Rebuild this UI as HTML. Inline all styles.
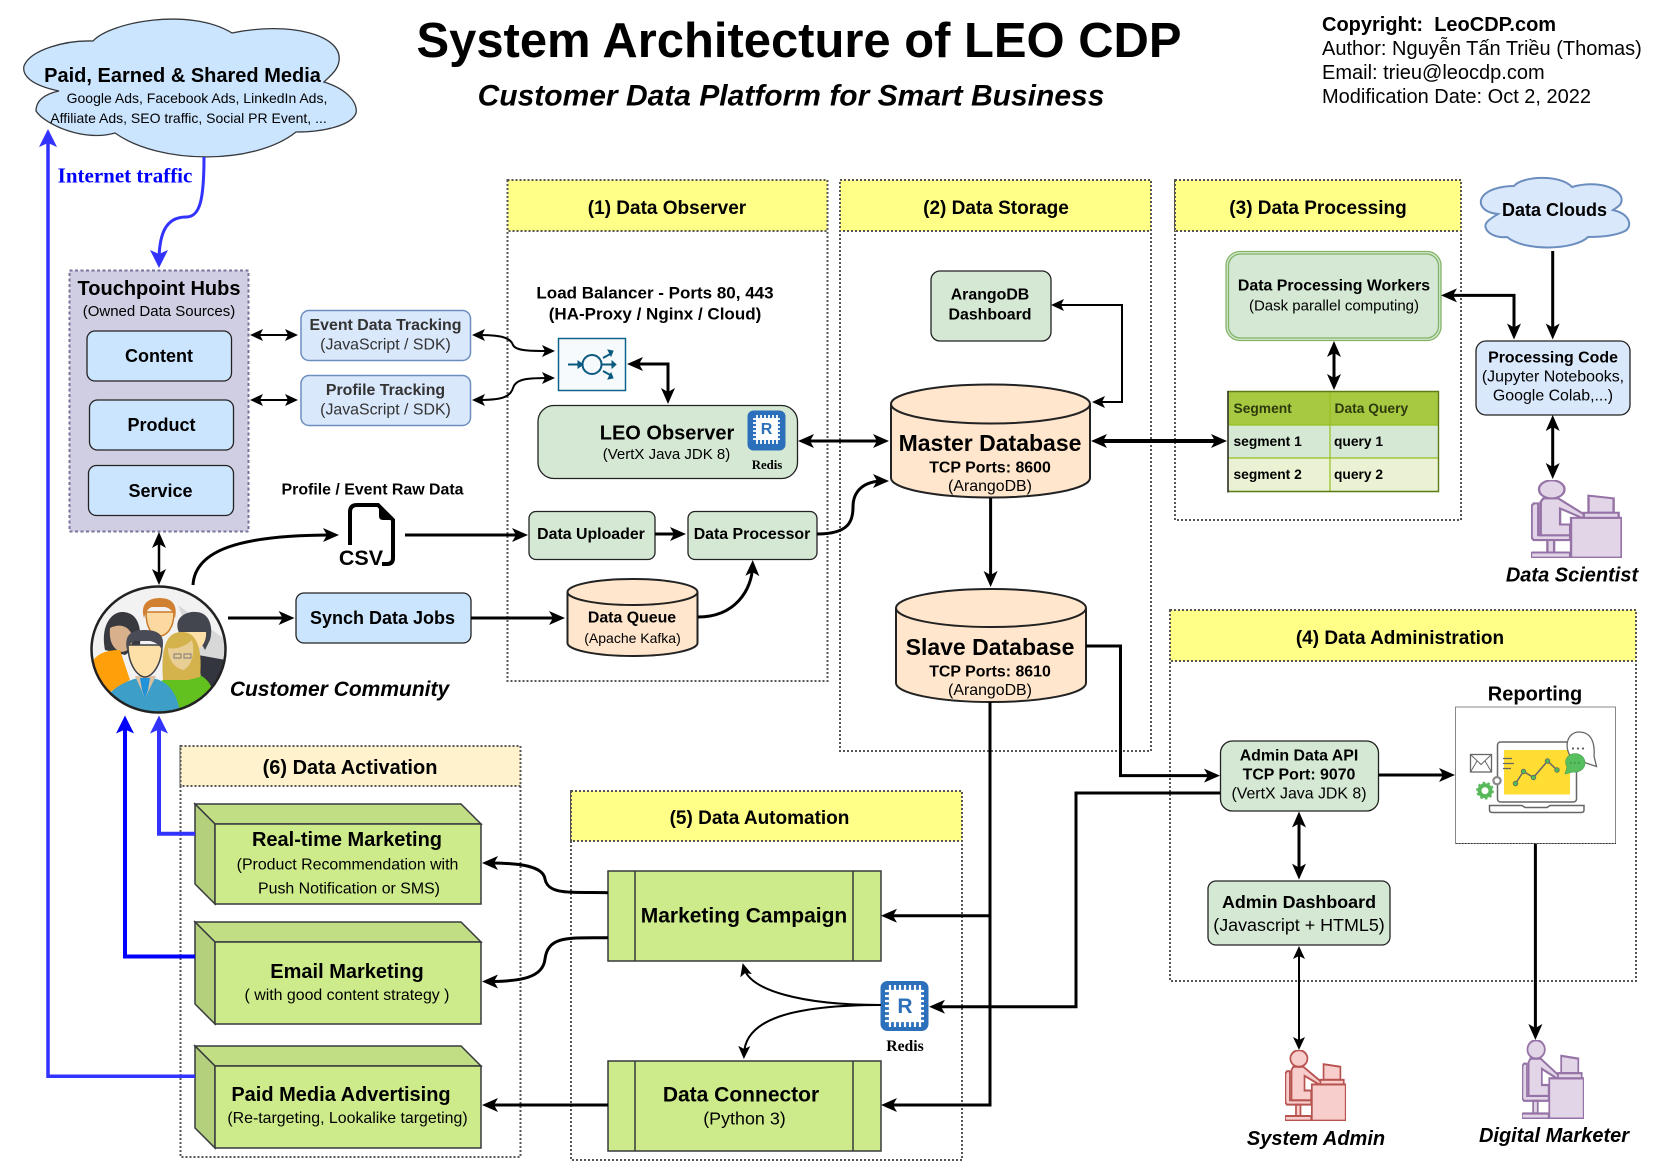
<!DOCTYPE html>
<html lang="en"><head><meta charset="utf-8"><title>System Architecture of LEO CDP</title>
<style>
html,body{margin:0;padding:0;background:#fff}
svg{display:block}
text{font-family:"Liberation Sans",sans-serif;fill:#000;text-anchor:middle;dominant-baseline:central}
.b{font-weight:bold}
.bi{font-weight:bold;font-style:italic}
.l{text-anchor:start}
.s{font-family:"Liberation Serif",serif;font-weight:bold}
.sec{fill:none;stroke:#555;stroke-width:2;stroke-dasharray:2 2}
.hd{fill:#ffff88;stroke:#555;stroke-width:2;stroke-dasharray:2 2}
.g{fill:#d5e8d4;stroke:#222;stroke-width:1.3}
.bl{fill:#cce5ff;stroke:#222;stroke-width:1.3}
.ev{fill:#dae8fc;stroke:#6c8ebf;stroke-width:1.5}
.a{fill:none;stroke:#000;stroke-width:3;marker-end:url(#ma)}
.ad{fill:none;stroke:#000;stroke-width:3;marker-end:url(#ma);marker-start:url(#ma)}
.p{fill:none;stroke:#000;stroke-width:3}
.t{fill:none;stroke:#000;stroke-width:2;marker-end:url(#mb)}
.td{fill:none;stroke:#000;stroke-width:2;marker-end:url(#mb);marker-start:url(#mb)}
.cyl{fill:#ffe6cc;stroke:#222;stroke-width:2}
.cf{fill:#cdeb8b;stroke:#36393d;stroke-width:1.5}
.ct{fill:#c2de84;stroke:#36393d;stroke-width:1.5}
.cs{fill:#b4d07c;stroke:#36393d;stroke-width:1.5}
</style></head><body>
<svg xmlns="http://www.w3.org/2000/svg" width="1655" height="1162" viewBox="0 0 1655 1162">
<defs>
<marker id="ma" markerUnits="userSpaceOnUse" markerWidth="16" markerHeight="14" refX="10" refY="7" orient="auto-start-reverse"><path d="M16,7L0,0L4,7L0,14Z" fill="#000"/></marker>
<marker id="mb" markerUnits="userSpaceOnUse" markerWidth="13" markerHeight="12" refX="8" refY="6" orient="auto-start-reverse"><path d="M13,6L0,0L3,6L0,12Z" fill="#000"/></marker>
<marker id="mc" markerUnits="userSpaceOnUse" markerWidth="18" markerHeight="18" refX="12" refY="9" orient="auto"><path d="M18,9L0,0L4,9L0,18Z" fill="#3333ff"/></marker>
<marker id="md" markerUnits="userSpaceOnUse" markerWidth="18" markerHeight="18" refX="12" refY="9" orient="auto"><path d="M18,9L0,0L4,9L0,18Z" fill="#0000ff"/></marker>
<clipPath id="cc"><ellipse cx="158.5" cy="649.5" rx="66" ry="62"/></clipPath>
<g id="person">
<path d="M0.7,33L3,30H8V70.8H43V77H3L0.7,74Z"/>
<rect x="18" y="77" width="7.4" height="16"/>
<rect x="0" y="93" width="43" height="6.5" rx="1.5"/>
<path d="M10.7,28L13.5,23.6H30L61,46L57.7,49.4L32,36.5V57H43V70.8H10.7Z"/>
<ellipse cx="22.8" cy="12" rx="14" ry="11.6"/>
<rect x="44" y="48.5" width="55.5" height="51"/>
<path d="M63.2,20L90.8,23.6V42H63.2Z"/>
<rect x="58" y="42" width="38.3" height="6.5"/>
</g>
</defs>

<!-- Titles -->
<text class="b" x="799" y="41" font-size="48.95">System Architecture of LEO CDP</text>
<text class="bi" x="791" y="96" font-size="30">Customer Data Platform for Smart Business</text>
<text class="b l" x="1322" y="25" font-size="20">Copyright: &#160;LeoCDP.com</text>
<text class="l" x="1322" y="49" font-size="20">Author: Nguyễn Tấn Triều (Thomas)</text>
<text class="l" x="1322" y="73" font-size="20">Email: trieu@leocdp.com</text>
<text class="l" x="1322" y="97" font-size="20">Modification Date: Oct 2, 2022</text>

<!-- Sections -->
<rect class="sec" x="507.5" y="180" width="320" height="501"/>
<rect class="hd" x="507.5" y="180" width="320" height="51"/>
<text class="b" x="667" y="208.5" font-size="19">(1) Data Observer</text>
<rect class="sec" x="840" y="180" width="311" height="571"/>
<rect class="hd" x="840" y="180" width="311" height="51"/>
<text class="b" x="996" y="208.5" font-size="19">(2) Data Storage</text>
<rect class="sec" x="1175" y="180" width="286" height="340"/>
<rect class="hd" x="1175" y="180" width="286" height="51"/>
<text class="b" x="1318" y="208.5" font-size="19">(3) Data Processing</text>
<rect class="sec" x="1170" y="610" width="466" height="371"/>
<rect class="hd" x="1170" y="610" width="466" height="51"/>
<text class="b" x="1400" y="638.5" font-size="19">(4) Data Administration</text>
<rect class="sec" x="571" y="791" width="391" height="369"/>
<rect class="hd" x="571" y="791" width="391" height="50"/>
<text class="b" x="759.5" y="818.5" font-size="19">(5) Data Automation</text>
<rect class="sec" x="180.5" y="746" width="340" height="411"/>
<rect x="180.5" y="746" width="340" height="40" fill="#fff2cc" stroke="#555" stroke-width="2" stroke-dasharray="2 2"/>
<text class="b" x="350" y="768" font-size="20">(6) Data Activation</text>

<!-- Media cloud -->
<path d="M93,41C110,22 190,7 232,33C290,21 343,35 339,61C338,70 330,76 324,82C350,90 358,105 356,113C352,125 325,132 296,132C255,165 160,165 115,133C85,142 45,125 36,111C36,100 45,94 59,91C30,85 22,75 24,66C30,50 65,40 93,41Z" fill="#cce5ff" stroke="#36393d" stroke-width="1.3"/>
<text class="b" x="182.5" y="76" font-size="20">Paid, Earned &amp; Shared Media</text>
<text x="197" y="98" font-size="14">Google Ads, Facebook Ads, LinkedIn Ads,</text>
<text x="188.5" y="118" font-size="14">Affiliate Ads, SEO traffic, Social PR Event, ...</text>
<text class="s" x="125" y="175.5" font-size="21" style="fill:#0000ff">Internet traffic</text>

<!-- Touchpoint Hubs -->
<rect x="69.5" y="270.5" width="179" height="261" fill="#d0cee2" stroke="#77749a" stroke-width="2" stroke-dasharray="3 2.5"/>
<text class="b" x="159" y="289" font-size="20">Touchpoint Hubs</text>
<text x="159" y="311.5" font-size="15">(Owned Data Sources)</text>
<rect class="bl" x="87" y="331" width="144.5" height="50" rx="8"/>
<text class="b" x="159" y="356" font-size="18">Content</text>
<rect class="bl" x="89.5" y="400" width="144" height="50" rx="8"/>
<text class="b" x="161.5" y="425" font-size="18">Product</text>
<rect class="bl" x="88.5" y="465.5" width="145" height="50" rx="8"/>
<text class="b" x="160.5" y="491" font-size="18">Service</text>

<!-- Tracking -->
<rect class="ev" x="301" y="310.5" width="169.5" height="50" rx="8"/>
<text class="b" x="385.5" y="325.5" font-size="15.9" style="fill:#333">Event Data Tracking</text>
<text x="385.5" y="345" font-size="15.9" style="fill:#333">(JavaScript / SDK)</text>
<rect class="ev" x="301" y="375.5" width="169.5" height="50" rx="8"/>
<text class="b" x="385.5" y="390.5" font-size="15.9" style="fill:#333">Profile Tracking</text>
<text x="385.5" y="410" font-size="15.9" style="fill:#333">(JavaScript / SDK)</text>

<!-- Labels -->
<text class="b" x="372.5" y="490" font-size="15.9">Profile / Event Raw Data</text>
<text class="b" x="655" y="293" font-size="17">Load Balancer - Ports 80, 443</text>
<text class="b" x="655" y="314" font-size="17">(HA-Proxy / Nginx / Cloud)</text>

<!-- CSV -->
<path d="M350,545V512Q350,505 357,505H378L393,520V558Q393,564 387,564H382" fill="none" stroke="#000" stroke-width="4"/>
<path d="M379,505V516Q379,520 383,520H393Z" fill="#000"/>
<text class="b" x="361" y="558" font-size="21.5">CSV</text>

<!-- LB -->
<rect x="558.5" y="338.5" width="67" height="52" fill="#f7fafd" stroke="#10648c" stroke-width="1.5"/>
<circle cx="592" cy="364.5" r="9.5" fill="none" stroke="#0a5a7f" stroke-width="2"/>
<path d="M568,364.5H578M602,364.5H614M603,358L612,353M603,371L612,376" fill="none" stroke="#0a5a7f" stroke-width="2"/>
<path d="M578,361L583,364.5L578,368ZM612,361L616,364.5L612,368ZM608,350L613,351L611,356ZM608,379L613,378L611,373Z" fill="#0a5a7f" stroke="#0a5a7f"/>

<!-- LEO Observer -->
<rect class="g" x="538" y="405.5" width="259.5" height="73" rx="16"/>
<text class="b" x="667" y="433.5" font-size="20">LEO Observer</text>
<text x="666.5" y="454.5" font-size="15">(VertX Java JDK 8)</text>
<rect x="747.5" y="410.5" width="38" height="40" rx="6" fill="#2c6fba"/>
<path d="M753,419H780M753,423H780M753,427H780M753,431H780M753,435H780M753,439H780M757,415V444M761,415V444M765,415V444M769,415V444M773,415V444M777,415V444" stroke="#fff" stroke-width="1.8"/>
<rect x="756" y="418" width="21" height="22" fill="#fff"/>
<text class="b" x="766.5" y="429.5" font-size="16" style="fill:#2c6fba">R</text>
<text class="s" x="767" y="465" font-size="12.8">Redis</text>

<!-- Uploader etc -->
<rect class="g" x="529" y="511.5" width="126" height="48" rx="7"/>
<text class="b" x="591" y="534.5" font-size="15.9">Data Uploader</text>
<rect class="g" x="688" y="511.5" width="129" height="48" rx="7"/>
<text class="b" x="752" y="534.5" font-size="15.9">Data Processor</text>

<!-- Data Queue -->
<path class="cyl" d="M567.5,592A65,13 0 0 1 697.5,592V643A65,13 0 0 1 567.5,643Z"/>
<path d="M567.5,592A65,13 0 0 0 697.5,592" fill="none" stroke="#222" stroke-width="2"/>
<text class="b" x="632" y="618" font-size="15.9">Data Queue</text>
<text x="632.5" y="638" font-size="14">(Apache Kafka)</text>

<!-- Dashboard -->
<rect class="g" x="931" y="271" width="120" height="70" rx="9"/>
<text class="b" x="990" y="295" font-size="15.9">ArangoDB</text>
<text class="b" x="990" y="315" font-size="15.9">Dashboard</text>

<!-- Master -->
<path class="cyl" d="M891,404A99.5,19.5 0 0 1 1090,404V478A99.5,19.5 0 0 1 891,478Z"/>
<path d="M891,404A99.5,19.5 0 0 0 1090,404" fill="none" stroke="#222" stroke-width="2"/>
<text class="b" x="990" y="443" font-size="23">Master Database</text>
<text class="b" x="990" y="468" font-size="15.9">TCP Ports: 8600</text>
<text x="990" y="486.5" font-size="15.9">(ArangoDB)</text>
<!-- Slave -->
<path class="cyl" d="M896,608A95,19 0 0 1 1086,608V683A95,19 0 0 1 896,683Z"/>
<path d="M896,608A95,19 0 0 0 1086,608" fill="none" stroke="#222" stroke-width="2"/>
<text class="b" x="990" y="647" font-size="23">Slave Database</text>
<text class="b" x="990" y="672" font-size="15.9">TCP Ports: 8610</text>
<text x="990" y="690.5" font-size="15.9">(ArangoDB)</text>

<!-- Workers -->
<rect x="1226" y="251.5" width="215" height="89" rx="14" fill="#d5e8d4" stroke="#82b366" stroke-width="1.3"/>
<rect x="1228.5" y="254" width="210" height="84" rx="12" fill="none" stroke="#82b366" stroke-width="1.3"/>
<text class="b" x="1334" y="286" font-size="15.9">Data Processing Workers</text>
<text x="1334" y="306" font-size="15">(Dask parallel computing)</text>

<!-- Table -->
<rect x="1228" y="391.5" width="211" height="101" fill="#d5e8d4"/>
<rect x="1228" y="391.5" width="211" height="33.5" fill="#a7c942"/>
<rect x="1228" y="458" width="211" height="34.5" fill="#eaf2d3"/>
<path d="M1228,425H1439M1228,458H1439M1330,392V492" stroke="#98bf21" stroke-width="1.2" fill="none"/>
<path d="M1228,491.5H1438.5V391.5H1228Z" fill="none" stroke="#5d7b16" stroke-width="1.4"/>
<path d="M1228,391V492.5" stroke="#333" stroke-width="1.5" fill="none"/>
<text class="b l" x="1233.5" y="408.5" font-size="13.8" style="fill:#2d3a0c">Segment</text>
<text class="b l" x="1334.5" y="408.5" font-size="13.8" style="fill:#2d3a0c">Data Query</text>
<text class="b l" x="1233.5" y="441.5" font-size="13.8">segment 1</text>
<text class="b l" x="1334" y="441.5" font-size="13.8">query 1</text>
<text class="b l" x="1233.5" y="474.5" font-size="13.8">segment 2</text>
<text class="b l" x="1334" y="474.5" font-size="13.8">query 2</text>

<!-- Data Clouds -->
<path d="M1514,186C1522,176 1560,174 1572,187C1600,179 1626,190 1621,203C1620,206 1616,208 1613,210C1630,214 1633,226 1625,231C1615,236 1600,237 1588,237C1575,250 1525,252 1507,237C1492,239 1480,228 1488,221C1491,218 1495,216 1498,214C1480,212 1477,201 1485,194C1492,188 1505,186 1514,186Z" fill="#dae8fc" stroke="#6c8ebf" stroke-width="2"/>
<text class="b" x="1554.5" y="210" font-size="18">Data Clouds</text>
<rect class="bl" x="1476" y="341" width="154" height="74" rx="10" style="fill:#dae8fc"/>
<text class="b" x="1553" y="358" font-size="15.9">Processing Code</text>
<text x="1553" y="377" font-size="15.9">(Jupyter Notebooks,</text>
<text x="1553" y="396" font-size="15.9">Google Colab,...)</text>

<!-- Persons -->
<svg x="1531" y="480" width="91" height="78" viewBox="0 0 100 100" preserveAspectRatio="none" fill="#e1d5e7" stroke="#9673a6" stroke-width="2.6"><use href="#person"/></svg>
<text class="bi" x="1572" y="575.5" font-size="20">Data Scientist</text>
<svg x="1285" y="1050" width="61" height="71" viewBox="0 0 100 100" preserveAspectRatio="none" fill="#f8cecc" stroke="#b85450" stroke-width="2.8"><use href="#person"/></svg>
<text class="bi" x="1316" y="1139" font-size="20">System Admin</text>
<svg x="1522" y="1040" width="62" height="79" viewBox="0 0 100 100" preserveAspectRatio="none" fill="#e1d5e7" stroke="#9673a6" stroke-width="2.8"><use href="#person"/></svg>
<text class="bi" x="1554" y="1136" font-size="20">Digital Marketer</text>

<!-- Admin -->
<rect class="g" x="1220.5" y="741" width="158" height="70" rx="12"/>
<text class="b" x="1299" y="756" font-size="15.9">Admin Data API</text>
<text class="b" x="1299" y="775" font-size="15.9">TCP Port: 9070</text>
<text x="1299" y="794" font-size="15.9">(VertX Java JDK 8)</text>
<rect class="g" x="1208" y="881" width="182" height="64" rx="8"/>
<text class="b" x="1299" y="902" font-size="17.9">Admin Dashboard</text>
<text x="1299" y="925" font-size="17.9">(Javascript + HTML5)</text>

<!-- Reporting -->
<text class="b" x="1535" y="694.5" font-size="20">Reporting</text>
<rect x="1455.5" y="707" width="160" height="136.5" fill="#fff" stroke="#888" stroke-width="1"/>
<path d="M1456,843.5H1616" stroke="#333" stroke-width="1" stroke-dasharray="1.5 1.5"/>
<rect x="1497.5" y="742" width="79" height="60" rx="3" fill="#fff" stroke="#666" stroke-width="1.5"/>
<path d="M1489.5,805.5H1522L1525,807.5H1547L1550,805.5H1584V810Q1584,812.5 1581,812.5H1492.5Q1489.5,812.5 1489.5,810Z" fill="#fff" stroke="#666" stroke-width="1.5"/>
<rect x="1504" y="750" width="66" height="44.5" fill="#ffdd33"/>
<polyline points="1515.5,783.5 1523.5,771.5 1533.5,777.5 1547.5,761 1557,770" fill="none" stroke="#666" stroke-width="1.5"/>
<g fill="#4ebd58" stroke="#666" stroke-width=".8"><circle cx="1515.5" cy="783.5" r="2.3"/><circle cx="1523.5" cy="771.5" r="2.3"/><circle cx="1533.5" cy="777.5" r="2.3"/><circle cx="1547.5" cy="761" r="2.3"/><circle cx="1557" cy="770" r="2.3"/></g>
<path d="M1503,758.5H1512M1503,763.5H1514M1503,768.5H1511" stroke="#666" stroke-width="1.2"/>
<rect x="1470.5" y="754.5" width="21" height="17.5" fill="#fff" stroke="#666" stroke-width="1.3"/>
<path d="M1470.5,754.5L1481,764.5L1491.5,754.5M1470.5,772L1477,761M1491.5,772L1485,761" fill="none" stroke="#666" stroke-width="1"/>
<circle cx="1485" cy="790.7" r="5.5" fill="none" stroke="#58b95a" stroke-width="4"/>
<circle cx="1485" cy="790.7" r="8" fill="none" stroke="#58b95a" stroke-width="1.8" stroke-dasharray="2.5 2.5"/>
<circle cx="1497" cy="780.7" r="3.6" fill="#fff" stroke="#888" stroke-width="2.2"/>
<path d="M1579,732C1592,732 1595,744 1594,756L1596.5,766.5L1586,763L1572,758C1563,748 1567,732 1579,732Z" fill="#fff" stroke="#666" stroke-width="1.3"/>
<path d="M1575,753.5C1581,753.5 1585,758 1585,763C1585,769 1579,773 1573,772L1565,774L1567,767C1563,760 1568,753.5 1575,753.5Z" fill="#57bf5e" stroke="#4a9a50" stroke-width=".6"/>
<path d="M1572,748.5h2M1577,748.5h2M1582,748.5h2" stroke="#555" stroke-width="1.8"/>
<path d="M1570,763h1.5M1574,763h1.5M1578,763h1.5" stroke="#3a7d40" stroke-width="1.2"/>

<!-- Synch / Customers -->
<rect class="bl" x="296" y="593" width="175" height="50" rx="8"/>
<text class="b" x="382.5" y="618" font-size="18">Synch Data Jobs</text>
<ellipse cx="158.5" cy="649.5" rx="67" ry="63" fill="#f2f2f2"/>
<g clip-path="url(#cc)">
<path d="M178,605L226,640V685L195,650Z" fill="#d8d8d8"/>
<path d="M198,655L226,660V695H205L200,672Z" fill="#33363f"/>
<path d="M105,650C100,625 112,612 122,612C135,612 142,622 140,645L125,655Z" fill="#37393f"/>
<path d="M110,628C122,622 132,628 133,640C130,652 122,654 117,650C112,646 109,640 110,628Z" fill="#d8b08c"/>
<path d="M90,665C96,654 105,650 120,650L130,680L110,692L96,690Z" fill="#ff9f0a"/>
<path d="M178,630C174,615 190,611 196,612C208,612 214,625 210,640L205,650L195,632L180,635Z" fill="#43464f"/>
<path d="M180,632H206C207,645 197,652 191,652C185,650 180,642 180,632Z" fill="#fddfa8"/>
<path d="M146,612C146,628 152,636 159,636C167,636 174,628 174,612Z" fill="#fcd9a0" stroke="#c87a2a" stroke-width="1.5"/>
<path d="M144,618C140,604 148,598 160,598C172,598 178,605 175,618C174,612 170,608 165,607L152,607C148,608 146,612 144,618Z" fill="#d08030"/>
<path d="M155,692C160,678 170,674 180,674L190,672C205,674 213,685 213,695L205,712H158Z" fill="#62c11e"/>
<path d="M163,680C160,640 170,632 182,632C195,632 203,645 200,677L188,680Z" fill="#d4b24c"/>
<path d="M168,648C176,650 186,646 192,640C196,655 190,668 183,670C175,668 168,660 168,648Z" fill="#e8cd95"/>
<path d="M174,654h7v4h-7zM184,654h7v4h-7z" fill="none" stroke="#777" stroke-width=".9"/>
<path d="M106,698C115,685 130,680 138,678L152,678C165,680 178,690 180,715H112Z" fill="#3d9fc8"/>
<path d="M135,676H156L145,698Z" fill="#d8c0a0"/>
<path d="M140,678H150L148,690L145,698L142,690Z" fill="#1f92d8"/>
<path d="M128,645C128,665 138,677 145,677C152,677 162,665 162,645Z" fill="#fddfa8" stroke="#3c4048" stroke-width="1.5"/>
<path d="M127,650C123,632 135,630 145,630C158,630 166,635 162,650C160,645 155,642 150,641L135,641C130,643 128,646 127,650Z" fill="#494c56"/>
</g>
<ellipse cx="158.5" cy="649.5" rx="67" ry="63" fill="none" stroke="#222" stroke-width="2.5"/>
<text class="bi" x="339.5" y="689.5" font-size="21">Customer Community</text>

<!-- Activation cubes -->
<g>
<path class="ct" d="M195,804H461L481,824H215Z"/><path class="cs" d="M195,804L215,824V904L195,884Z"/><rect class="cf" x="215" y="824" width="266" height="80"/>
<text class="b" x="347" y="840" font-size="20">Real-time Marketing</text>
<text x="347.5" y="865" font-size="15.9">(Product Recommendation with</text>
<text x="349" y="889" font-size="15.9">Push Notification or SMS)</text>
<path class="ct" d="M195,922H461L481,942H215Z"/><path class="cs" d="M195,922L215,942V1024L195,1004Z"/><rect class="cf" x="215" y="942" width="266" height="82"/>
<text class="b" x="347" y="972" font-size="20">Email Marketing</text>
<text x="347" y="995.5" font-size="15.9">( with good content strategy )</text>
<path class="ct" d="M195,1046H461L481,1066H215Z"/><path class="cs" d="M195,1046L215,1066V1148L195,1128Z"/><rect class="cf" x="215" y="1066" width="266" height="82"/>
<text class="b" x="341" y="1095" font-size="20">Paid Media Advertising</text>
<text x="347.5" y="1118.5" font-size="15.9">(Re-targeting, Lookalike targeting)</text>
</g>

<!-- Automation -->
<rect class="cf" x="608" y="871" width="273" height="90"/>
<path d="M635,871V961M853,871V961" stroke="#36393d" stroke-width="1.5"/>
<text class="b" x="744" y="916" font-size="21">Marketing Campaign</text>
<rect class="cf" x="608" y="1061" width="273" height="90"/>
<path d="M635,1061V1151M853,1061V1151" stroke="#36393d" stroke-width="1.5"/>
<text class="b" x="741" y="1095" font-size="21">Data Connector</text>
<text x="744.5" y="1118.5" font-size="17.9">(Python 3)</text>

<rect x="880.5" y="981" width="48" height="50" rx="7" fill="#2c6fba"/>
<path d="M885,991H924M885,996H924M885,1001H924M885,1006H924M885,1011H924M885,1016H924M885,1021H924M890,985V1027M895,985V1027M900,985V1027M905,985V1027M910,985V1027M915,985V1027M920,985V1027" stroke="#fff" stroke-width="2.2"/>
<rect x="890" y="991" width="30" height="30" fill="#fff"/>
<text class="b" x="905" y="1006.5" font-size="21" style="fill:#2c6fba">R</text>
<text class="s" x="905" y="1046.5" font-size="15.7">Redis</text>

<!-- Connectors -->
<path class="ad" d="M159,538V579" style="stroke-width:2.5"/>
<path class="a" d="M193,585C195,550 240,535 333,535"/>
<path class="a" d="M405,535H522"/>
<path class="a" d="M655,534H680"/>
<path class="a" d="M817,534C850,534 853,520 853,507C853,490 865,481 883,481"/>
<path class="a" d="M228,618H288.6"/>
<path class="a" d="M471,618H559"/>
<path class="a" d="M698,617C735,617 752,590 752.6,566"/>
<path class="ad" d="M633,364H668V398"/>
<path class="ad" d="M804,441H883"/>
<path class="a" d="M990.6,498V581"/>
<path class="ad" d="M1097,441H1221" style="stroke-width:4"/>
<path class="ad" d="M1334,347V384"/>
<path class="ad" d="M1447,295.4H1514V333.5"/>
<path class="a" d="M1552.7,251V333.5"/>
<path class="ad" d="M1552.7,421V473"/>
<path class="a" d="M1086,646H1120.5V775.6H1214"/>
<path class="a" d="M1220,793H1076V1006.7H935"/>
<path class="a" d="M1378.6,775H1449"/>
<path class="ad" d="M1299,817.5V873.6"/>
<path class="a" d="M1535.4,844V1034"/>
<path class="a" d="M990,702V1105H887"/>
<path class="a" d="M990,915.7H887"/>
<path class="a" d="M608,892.7C570,892 548,895 545,879C543,866 520,863 488,863"/>
<path class="a" d="M608,937.7C570,938 548,935 545,959C543,978 520,981.5 488,981.5"/>
<path class="a" d="M608,1105H488"/>
<path class="td" d="M255,335H293"/>
<path class="td" d="M255,400H293"/>
<path class="td" d="M477,335C500,335 510,337 513,345C516,351 530,351 550,351"/>
<path class="td" d="M477,400C500,400 510,398 513,388C516,378 530,378 550,378"/>
<path class="td" d="M1056,305H1122V402H1097"/>
<path class="td" d="M1299,951V1045"/>
<path class="t" d="M881,1005C800,1005 750,990 744,968"/>
<path class="t" d="M881,1005C790,1005 745,1020 744,1054"/>
<path d="M204,157C204,200 200,217 186,217C165,217 159,235 159,262" fill="none" stroke="#3333ff" stroke-width="3" marker-end="url(#mc)"/>
<path d="M195,833.7H159V721.5" fill="none" stroke="#3333ff" stroke-width="4" marker-end="url(#mc)"/>
<path d="M195,956.5H125V721.5" fill="none" stroke="#0000ff" stroke-width="4" marker-end="url(#md)"/>
<path d="M195,1076.3H48V135" fill="none" stroke="#3333ff" stroke-width="3.5" marker-end="url(#mc)"/>
</svg>
</body></html>
